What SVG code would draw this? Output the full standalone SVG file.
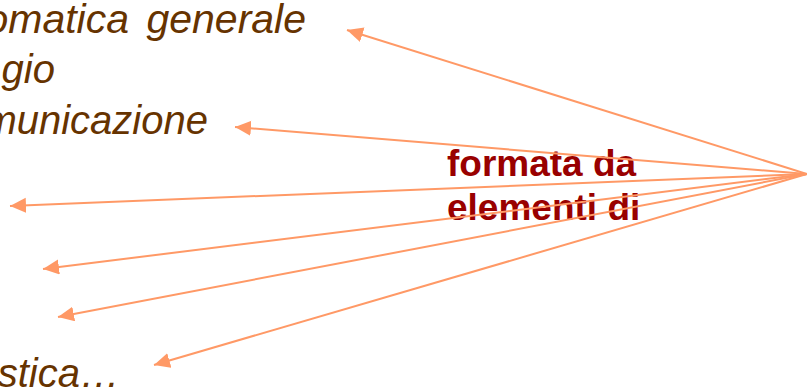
<svg xmlns="http://www.w3.org/2000/svg" width="807" height="390" viewBox="0 0 807 390">
<style>
.item{font-family:"Liberation Sans",Arial,sans-serif;font-style:italic;font-size:40px;fill:#663300;text-anchor:end}
.lbl{font-family:"Liberation Sans",Arial,sans-serif;font-weight:bold;font-size:37px;fill:#990000}
.conn line{stroke:#FF9966;stroke-width:2;fill:none;marker-end:url(#ah)}
</style>
<defs>
<marker id="ah" markerUnits="userSpaceOnUse" markerWidth="18" markerHeight="16" refX="16" refY="7.5" orient="auto" viewBox="0 0 18 16">
<path d="M0,0 L16,7.5 L0,15 Z" fill="#FF9966"/>
</marker>
</defs>
<rect width="807" height="390" fill="#ffffff"/>
<g id="items">
<text class="item" x="306" y="33" style="font-size:41px;word-spacing:6px">omatica generale</text>
<text class="item" x="55" y="83">gio</text>
<text class="item" x="208" y="134">comunicazione</text>
<text class="item" x="120" y="387">stica…</text>
</g>
<g id="label">
<text class="lbl" x="447" y="176">formata da</text>
<text class="lbl" x="447" y="220">elementi di</text>
</g>
<g id="connectors" class="conn">
<line x1="807" y1="174" x2="347" y2="30"/>
<line x1="807" y1="174" x2="235" y2="127"/>
<line x1="807" y1="174" x2="10" y2="206"/>
<line x1="807" y1="174" x2="43" y2="269"/>
<line x1="807" y1="174" x2="58" y2="317"/>
<line x1="807" y1="174" x2="154" y2="365"/>
</g>
</svg>
